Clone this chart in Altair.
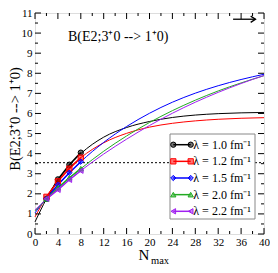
import altair as alt
import pandas as pd

# ---------------- data ----------------
lams = ["1.0", "1.2", "1.5", "2.0", "2.2"]
legend_labels = ["λ = 1.0 fm⁻¹", "λ = 1.2 fm⁻¹", "λ = 1.5 fm⁻¹", "λ = 2.0 fm⁻¹", "λ = 2.2 fm⁻¹"]
colors = ["#000000", "#ff0000", "#0000ff", "#22aa22", "#a020f0"]
shapes = ["circle", "square", "diamond", "triangle-up", "triangle-left"]

n_calc = [2, 4, 6, 8]
b_calc_10 = [1.75, 2.72, 3.45, 4.05]
b_calc_12 = [1.85, 2.62, 3.25, 3.80]
b_calc_15 = [1.75, 2.45, 3.05, 3.60]
b_calc_20 = [1.75, 2.30, 2.80, 3.25]
b_calc_22 = [1.75, 2.20, 2.70, 3.15]

n_fit = [0, 2, 4, 6, 8, 12, 16, 20, 24, 28, 32, 36, 40]
b_fit_10 = [0.60, 1.75, 2.68, 3.42, 4.00, 4.82, 5.30, 5.60, 5.80, 5.92, 5.99, 6.03, 6.05]
b_fit_12 = [0.85, 1.85, 2.65, 3.30, 3.80, 4.54, 5.01, 5.32, 5.51, 5.63, 5.71, 5.76, 5.79]
b_fit_15 = [1.05, 1.78, 2.44, 3.05, 3.60, 4.56, 5.35, 6.01, 6.56, 7.01, 7.38, 7.69, 7.95]
b_fit_20 = [1.15, 1.73, 2.27, 2.78, 3.25, 4.12, 4.88, 5.55, 6.14, 6.66, 7.12, 7.52, 7.88]
b_fit_22 = [1.20, 1.73, 2.22, 2.69, 3.15, 3.98, 4.72, 5.40, 6.01, 6.56, 7.05, 7.49, 7.89]

ref_level = 3.55
arrow_x = [34.6, 38.5]
arrow_y = 10.69

x_major = list(range(0, 41, 4))
x_minor = list(range(2, 41, 4))
y_major = list(range(0, 12))
y_minor = [v + 0.5 for v in range(0, 11)]

plot_title = "B(E2;3⁺0 --> 1⁺0)"
y_title = "B(E2;3⁺0 --> 1⁺0)"

# ---------------- tables ----------------
calc_sets = [b_calc_10, b_calc_12, b_calc_15, b_calc_20, b_calc_22]
fit_sets = [b_fit_10, b_fit_12, b_fit_15, b_fit_20, b_fit_22]
calc_df = pd.DataFrame([
    {"N": n, "B": b, "lam": lam} for lam, vals in zip(lams, calc_sets) for n, b in zip(n_calc, vals)
])
fit_df = pd.DataFrame([
    {"N": n, "B": b, "lam": lam} for lam, vals in zip(lams, fit_sets) for n, b in zip(n_fit, vals)
])
ref_df = pd.DataFrame({"N": [0, 40], "B": [ref_level, ref_level]})
arrow_df = pd.DataFrame({"x1": [arrow_x[0]], "x2": [arrow_x[1]], "y": [arrow_y]})
leg_df = pd.DataFrame({"lab": legend_labels, "lam": lams})
one = pd.DataFrame({"t": [0]})

W, H = 229, 221
SERIF = "Liberation Serif"

xs = alt.Scale(domain=[0, 40], nice=False, zero=False)
ys = alt.Scale(domain=[0, 11], nice=False, zero=False)
col = alt.Color("lam:N", scale=alt.Scale(domain=lams, range=colors), legend=None)
fil = alt.Fill("lam:N", scale=alt.Scale(domain=lams, range=colors), legend=None)
stk = alt.Stroke("lam:N", scale=alt.Scale(domain=lams, range=colors), legend=None)
shp = alt.Shape("lam:N", scale=alt.Scale(domain=lams, range=shapes), legend=None)

x_axis = alt.Axis(values=x_major, format="d", ticks=False, domain=False, grid=False,
                  labelFont=SERIF, labelFontSize=11, labelColor="black", labelPadding=2,
                  labelFlush=False, labelOverlap=False, title=None)
y_axis = alt.Axis(values=y_major, format="d", ticks=False, domain=False, grid=False,
                  labelFont=SERIF, labelFontSize=11, labelColor="black", labelPadding=3,
                  labelFlush=False, labelOverlap=False, title=None)

def X(f):
    return alt.X(f, scale=xs, axis=x_axis)

def Y(f):
    return alt.Y(f, scale=ys, axis=y_axis)

curves = alt.Chart(fit_df).mark_line(interpolate="monotone", strokeWidth=1).encode(
    x=X("N:Q"), y=Y("B:Q"), color=col,
)
calc_lines = alt.Chart(calc_df).mark_line(strokeWidth=1.5).encode(
    x=X("N:Q"), y=Y("B:Q"), color=col
)
calc_pts = alt.Chart(calc_df).mark_point(filled=True, size=28, fillOpacity=0.55, strokeWidth=1, opacity=1).encode(
    x=X("N:Q"), y=Y("B:Q"), fill=fil, stroke=stk, shape=shp
)
ref_line = alt.Chart(ref_df).mark_line(color="black", strokeWidth=1, strokeDash=[2, 2]).encode(
    x=X("N:Q"), y=Y("B:Q")
)
arrow_line = alt.Chart(arrow_df).mark_rule(color="black", strokeWidth=1.3).encode(
    x=X("x1:Q"), x2="x2:Q", y=Y("y:Q")
)
arrow_head = alt.Chart(arrow_df).mark_point(shape="M-1,-0.65L0,0L-1,0.65", filled=False,
                                            color="black", strokeWidth=1.4, size=90, opacity=1).encode(
    x=X("x2:Q"), y=Y("y:Q")
)

def tick_layer(vals, channel, side, length):
    df = pd.DataFrame({"v": vals})
    base = alt.Chart(df).mark_rule(color="black", strokeWidth=1)
    if channel == "x":
        if side == "bottom":
            return base.encode(x=X("v:Q"), y=alt.value(H), y2=alt.value(H - length))
        return base.encode(x=X("v:Q"), y=alt.value(0), y2=alt.value(length))
    if side == "left":
        return base.encode(y=Y("v:Q"), x=alt.value(0), x2=alt.value(length))
    return base.encode(y=Y("v:Q"), x=alt.value(W), x2=alt.value(W - length))

ticks = [
    tick_layer(x_major, "x", "bottom", 6), tick_layer(x_minor, "x", "bottom", 3),
    tick_layer(x_major, "x", "top", 6), tick_layer(x_minor, "x", "top", 3),
    tick_layer(y_major, "y", "left", 6), tick_layer(y_minor, "y", "left", 3),
    tick_layer(y_major, "y", "right", 6), tick_layer(y_minor, "y", "right", 3),
]

title_txt = alt.Chart(pd.DataFrame({"t": [plot_title]})).mark_text(
    align="left", baseline="middle", font=SERIF, fontSize=14, color="black"
).encode(x=alt.value(33), y=alt.value(24), text="t:N")
ytitle_txt = alt.Chart(pd.DataFrame({"t": [y_title]})).mark_text(
    align="center", baseline="middle", font=SERIF, fontSize=14.5, color="black", angle=270
).encode(x=alt.value(-19), y=alt.value(106), text="t:N")
xN_txt = alt.Chart(pd.DataFrame({"t": ["N"]})).mark_text(
    align="center", baseline="middle", font=SERIF, fontSize=15, color="black"
).encode(x=alt.value(109), y=alt.value(242), text="t:N")
xmax_txt = alt.Chart(pd.DataFrame({"t": ["max"]})).mark_text(
    align="center", baseline="middle", font=SERIF, fontSize=10.5, color="black"
).encode(x=alt.value(125), y=alt.value(248), text="t:N")

main = alt.layer(
    ref_line, curves, calc_lines, calc_pts, arrow_line, arrow_head,
    *ticks, title_txt, ytitle_txt, xN_txt, xmax_txt
)

# ---------------- legend ----------------
ly = alt.Y("lam:N", scale=alt.Scale(type="point", domain=lams, range=[131.7, 198.3], padding=0), axis=None)
leg_box = alt.Chart(one).mark_rect(fill="white", stroke="#888888", strokeWidth=1).encode(
    x=alt.value(135), x2=alt.value(220), y=alt.value(121), y2=alt.value(206)
)
leg_line = alt.Chart(leg_df).mark_rule(strokeWidth=1.5).encode(
    x=alt.value(138.3), x2=alt.value(155.7), y=ly, color=col
)
leg_pt1 = alt.Chart(leg_df).mark_point(filled=True, size=28, fillOpacity=0.55, strokeWidth=1, opacity=1).encode(
    x=alt.value(138.3), y=ly, fill=fil, stroke=stk, shape=shp
)
leg_pt2 = alt.Chart(leg_df).mark_point(filled=True, size=28, fillOpacity=0.55, strokeWidth=1, opacity=1).encode(
    x=alt.value(155.7), y=ly, fill=fil, stroke=stk, shape=shp
)
leg_txt = alt.Chart(leg_df).mark_text(align="left", baseline="middle", font=SERIF, fontSize=12, color="black").encode(
    x=alt.value(158.3), y=ly, text="lab:N"
)
legend = alt.layer(leg_box, leg_line, leg_pt1, leg_pt2, leg_txt)

chart = alt.layer(main, legend).resolve_scale(y="independent").properties(
    width=W, height=H,
    autosize=alt.AutoSizeParams(type="none"),
    padding={"left": 27, "top": 5, "right": 6, "bottom": 31},
).configure_view(stroke="black", strokeWidth=1.2).configure(background="white")

chart.save("out.html", embed_options={"renderer": "svg", "actions": False})
